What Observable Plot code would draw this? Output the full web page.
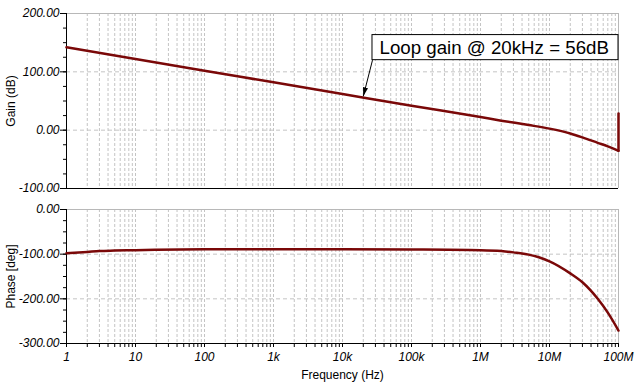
<!DOCTYPE html>
<html>
<head>
<meta charset="utf-8">
<script src="https://cdn.jsdelivr.net/npm/d3@7"></script>
<script src="https://cdn.jsdelivr.net/npm/@observablehq/plot@0.6"></script>
<style>
  html, body { margin: 0; padding: 0; background: #fff; }
  #chart { width: 643px; height: 390px; overflow: hidden; }
  #chart svg { display: block; }
  #chart text { font-style: normal; }
  #chart g[aria-label="y-axis tick label"] text, #chart g[aria-label="x-axis tick label"] text { font-style: italic; }
</style>
</head>
<body>
<div id="chart"></div>
<script>
// ---- data ----
const freq = [1, 10, 100, 1e3, 1e4, 1e5, 1e6, 2e6, 5e6, 1e7, 2e7, 3e7, 5e7, 7e7, 1e8, 1e8];
const gain = [142, 122, 102, 82, 62, 42, 22.5, 16.3, 8.8, 2.6, -5.7, -12.4, -21.7, -27.8, -35.4, 28.6];

const phaseFreq = [1, 2, 3, 5, 10, 20, 100, 1e3, 1e4, 1e5, 1e6, 2e6, 3e6, 5e6, 7e6, 1e7, 2e7, 3e7, 5e7, 7e7, 1e8];
const phase = [-98, -95, -93, -92, -91, -90, -89, -89, -89, -89.5, -91, -93, -96, -101, -107, -116, -143, -163, -200, -231, -271];

const decadeTicks = [1, 10, 100, 1e3, 1e4, 1e5, 1e6, 1e7, 1e8];
const decadeLabels = ["1", "10", "100", "1k", "10k", "100k", "1M", "10M", "100M"];
const gainMajor = [-100, 0, 100, 200];
const phaseMajor = [-300, -200, -100, 0];
const minorStep = 25;

const annotationText = "Loop gain @ 20kHz = 56dB";
const annFreq = 20000, annGain = 58;          // arrow tip
const boxFreq = [27200, 1e8], boxGain = [120, 163];
const textFreq = 34400, textGain = 141.5;

// ---- derived helpers ----
const gridFreqs = [];
for (let d = 1; d < 1e8; d *= 10) for (let m = 1; m < 10; m++) gridFreqs.push(d * m);
gridFreqs.push(1e8);
const gainMinor = d3.range(-100, 200.1, minorStep);
const phaseMinor = d3.range(-300, 0.1, minorStep);
const n = freq.length;
const gainCurve = freq.slice(0, n - 1).map((f, i) => ({f, v: gain[i]}));
const gainJump = freq.slice(n - 2).map((f, i) => ({f, v: gain[n - 2 + i]}));
const phaseData = phaseFreq.map((f, i) => ({f, v: phase[i]}));

const FONT = "'Liberation Sans', Arial, sans-serif";
const LINE = "#7a0808";
const GRID = "#c4c4c4";
const BORDER = "#b8b8b8";
const W = 643, ML = 66, MR = 25;

const fmt2 = d => d.toFixed(2);

const gainPlot = Plot.plot({
  width: W, height: 198,
  marginLeft: ML, marginRight: MR, marginTop: 13, marginBottom: 10,
  style: {fontFamily: FONT, fontSize: "12px", background: "#fff", overflow: "visible", color: "#000"},
  x: {type: "log", domain: [1, 1e8], axis: null},
  y: {domain: [-100, 200]},
  marks: [
    Plot.ruleX(gridFreqs, {stroke: GRID, strokeDasharray: "3,2", strokeWidth: 1}),
    Plot.ruleY(gainMajor.filter(v => v > -100 && v < 200), {stroke: GRID, strokeDasharray: "4,3"}),
    Plot.ruleY([200], {stroke: BORDER}),
    Plot.ruleX([1e8], {stroke: BORDER}),
    Plot.axisY({ticks: gainMinor, tickSize: 3, tickFormat: () => "", label: null}),
    Plot.axisY({ticks: gainMajor, tickSize: 6, tickPadding: 1, tickFormat: fmt2, fontSize: 12,
      label: "Gain (dB)", labelAnchor: "center", labelArrow: false, labelOffset: 60}),
    Plot.ruleX([1], {stroke: "#000"}),
    Plot.ruleY([-100], {stroke: "#000"}),
    Plot.line(gainCurve, {x: "f", y: "v", stroke: LINE, strokeWidth: 2.5, curve: "monotone-x"}),
    Plot.line(gainJump, {x: "f", y: "v", stroke: LINE, strokeWidth: 2.5}),
    Plot.rect([0], {x1: () => boxFreq[0], x2: () => boxFreq[1], y1: () => boxGain[0], y2: () => boxGain[1], fill: "#fff", stroke: "#000", strokeWidth: 1}),
    Plot.text([annotationText], {x: () => textFreq, y: () => textGain, text: d => d, textAnchor: "start", fontSize: 18.7, fill: "#000"}),
    Plot.link([0], {x1: () => boxFreq[0], y1: () => boxGain[0], x2: () => annFreq, y2: () => annGain, stroke: "#000", strokeWidth: 1, markerEnd: "arrow"})
  ]
});

// filled arrow head like the reference
gainPlot.querySelectorAll("marker").forEach(m => {
  m.setAttribute("viewBox", "-9 -3 9 6");
  m.setAttribute("markerWidth", "9");
  m.setAttribute("markerHeight", "6");
  m.setAttribute("markerUnits", "userSpaceOnUse");
  m.setAttribute("fill", "#000");
  m.setAttribute("stroke", "none");
  m.innerHTML = '<path d="M-9,-2.6L0,0L-9,2.6Z"></path>';
});

const phasePlot = Plot.plot({
  width: W, height: 192,
  marginLeft: ML, marginRight: MR, marginTop: 11, marginBottom: 47,
  style: {fontFamily: FONT, fontSize: "12px", background: "#fff", overflow: "visible", color: "#000"},
  x: {type: "log", domain: [1, 1e8]},
  y: {domain: [-300, 0]},
  marks: [
    Plot.ruleX(gridFreqs, {stroke: GRID, strokeDasharray: "3,2", strokeWidth: 1}),
    Plot.ruleY(phaseMajor.filter(v => v > -300 && v < 0), {stroke: GRID, strokeDasharray: "4,3"}),
    Plot.ruleY([0], {stroke: BORDER}),
    Plot.ruleX([1e8], {stroke: BORDER}),
    Plot.axisY({ticks: phaseMinor, tickSize: 3, tickFormat: () => "", label: null}),
    Plot.axisY({ticks: phaseMajor, tickSize: 6, tickPadding: 1, tickFormat: fmt2, fontSize: 12,
      label: "Phase [deg]", labelAnchor: "center", labelArrow: false, labelOffset: 60}),
    Plot.axisX({ticks: gridFreqs, tickSize: 4, tickFormat: () => "", label: null}),
    Plot.axisX({ticks: decadeTicks, tickSize: 4, tickPadding: 5, fontSize: 12,
      tickFormat: d => decadeLabels[decadeTicks.indexOf(d)] ?? "",
      label: "Frequency (Hz)", labelAnchor: "center", labelArrow: false, labelOffset: 35}),
    Plot.ruleX([1], {stroke: "#000"}),
    Plot.ruleY([-300], {stroke: "#000"}),
    Plot.line(phaseData, {x: "f", y: "v", stroke: LINE, strokeWidth: 2.5, curve: "monotone-x"})
  ]
});

const chart = document.getElementById("chart");
chart.appendChild(gainPlot);
chart.appendChild(phasePlot);
</script>
</body>
</html>
